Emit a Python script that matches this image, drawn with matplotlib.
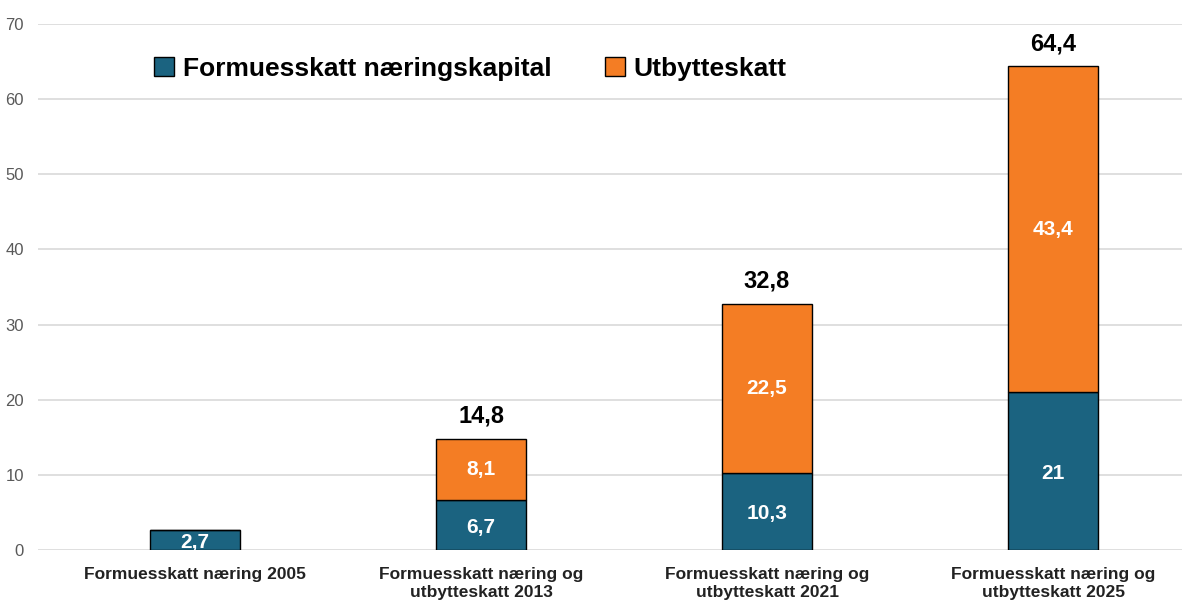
import matplotlib.pyplot as plt

# categories and values (mrd. kr)
categories = [
    "Formuesskatt næring 2005",
    "Formuesskatt næring og\nutbytteskatt 2013",
    "Formuesskatt næring og\nutbytteskatt 2021",
    "Formuesskatt næring og\nutbytteskatt 2025",
]
formue = [2.7, 6.7, 10.3, 21]
utbytte = [0, 8.1, 22.5, 43.4]
totals = [2.7, 14.8, 32.8, 64.4]

blue = "#1B6380"
orange = "#F47D24"
fonts = ["Liberation Sans", "DejaVu Sans"]


def fmt(v):
    s = ("%.1f" % v).replace(".", ",")
    if s.endswith(",0"):
        s = s[:-2]
    return s


fig = plt.figure(figsize=(11.82, 6.06), dpi=100)
ax = fig.add_axes([38 / 1182, 56 / 606, 1 - 38 / 1182, 526 / 606])

x = range(len(categories))
ax.bar(x, formue, width=0.315, color=blue, edgecolor="black", linewidth=1,
       label="Formuesskatt næringskapital", zorder=3)
ax.bar(x, utbytte, bottom=formue, width=0.315, color=orange, edgecolor="black",
       linewidth=1, label="Utbytteskatt", zorder=3)

ax.set_xlim(-0.549, 3.451)
ax.set_ylim(0, 70)
ax.set_yticks(range(0, 71, 10))
ax.grid(axis="y", color="#D9D9D9", linewidth=1.2, zorder=0)
for s in ax.spines.values():
    s.set_visible(False)
ax.tick_params(axis="both", length=0)
ax.tick_params(axis="y", labelsize=12, labelcolor="#595959", pad=10)
ax.set_xticks(list(x))
ax.set_xticklabels(categories, fontsize=12.5, fontweight="bold",
                   family=fonts, color="#222222", linespacing=1.3)
ax.tick_params(axis="x", pad=12)
for lbl in ax.get_yticklabels():
    lbl.set_family(fonts)

# segment labels
for i in x:
    ax.text(i, formue[i] / 2 - 0.3, fmt(formue[i]), ha="center", va="center",
            color="white", fontsize=15, fontweight="bold",
            family=fonts, clip_on=True, zorder=4)
    if utbytte[i] > 0:
        ax.text(i, formue[i] + utbytte[i] / 2, fmt(utbytte[i]), ha="center",
                va="center", color="white", fontsize=15, fontweight="bold",
                family=fonts, zorder=4)
        ax.text(i, totals[i] + 3.0, fmt(totals[i]), ha="center", va="center",
                color="black", fontsize=17, fontweight="bold",
                family=fonts, zorder=4)

leg = ax.legend(loc="center left", bbox_to_anchor=(0.081, 0.915), ncol=2,
                frameon=False, handlelength=0.75, handleheight=0.75,
                handletextpad=0.35, columnspacing=2.0,
                prop={"family": fonts, "weight": "bold", "size": 19})
for h in leg.legend_handles:
    h.set_edgecolor("black")

plt.savefig("out.png", dpi=100)
